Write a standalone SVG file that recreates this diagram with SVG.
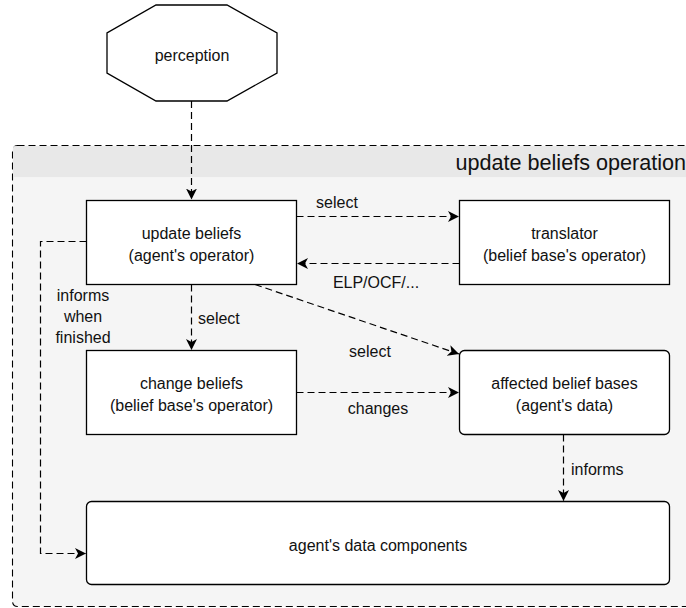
<svg xmlns="http://www.w3.org/2000/svg" width="686" height="608" viewBox="0 0 686 608">
  <style>
    text { font-family: "Liberation Sans", Arial, sans-serif; font-size: 16px; fill: #111111; }
    .mid { text-anchor: middle; }
    .node { fill: #ffffff; stroke: #000000; stroke-width: 1.3; }
    .edge { fill: none; stroke: #000000; stroke-width: 1.2; stroke-dasharray: 7 4; }
    .frame { fill: #f5f5f5; stroke: #000000; stroke-width: 1.1; stroke-dasharray: 7 4; }
  </style>
  <defs>
    <marker id="arrow" markerUnits="userSpaceOnUse" markerWidth="13" markerHeight="13" refX="11" refY="5.5" orient="auto" viewBox="0 0 13 11">
      <path d="M0,0 L11,5.5 L0,11 L3,5.5 Z" fill="#000000" stroke="none"/>
    </marker>
  </defs>

  <!-- enclosing operation frame -->
  <g id="update-beliefs-operation">
    <rect class="frame" x="12.5" y="145.5" width="690" height="461" rx="5"/>
    <rect x="13.1" y="146.1" width="680" height="31" fill="#e8e8e8"/>
    <text x="686" y="170" style="font-size:21.6px; text-anchor:end">update beliefs operation</text>
  </g>

  <g id="perception">
    <polygon class="node" points="156,5 227,5 277,33 277,73 227,101 156,101 107,73 107,33"/>
    <text class="mid" x="192" y="61">perception</text>
  </g>

  <g id="update-beliefs">
    <rect class="node" x="86.5" y="200.5" width="210" height="84"/>
    <text class="mid" x="191.5" y="239">update beliefs</text>
    <text class="mid" x="191.5" y="261">(agent's operator)</text>
  </g>

  <g id="translator">
    <rect class="node" x="459.5" y="200.5" width="210" height="84"/>
    <text class="mid" x="564.5" y="239">translator</text>
    <text class="mid" x="564.5" y="261">(belief base's operator)</text>
  </g>

  <g id="change-beliefs">
    <rect class="node" x="86.5" y="350.5" width="210" height="84"/>
    <text class="mid" x="191.5" y="389">change beliefs</text>
    <text class="mid" x="191.5" y="411">(belief base's operator)</text>
  </g>

  <g id="affected-belief-bases">
    <rect class="node" x="459.5" y="350.5" width="210" height="84" rx="5"/>
    <text class="mid" x="564.5" y="389">affected belief bases</text>
    <text class="mid" x="564.5" y="411">(agent's data)</text>
  </g>

  <g id="agents-data-components">
    <rect class="node" x="86.5" y="501.5" width="583" height="83" rx="5"/>
    <text class="mid" x="378" y="551">agent's data components</text>
  </g>

  <g id="connectors">
    <path class="edge" d="M191.5,101 L191.5,199.5" marker-end="url(#arrow)"/>
    <path class="edge" d="M296.5,216.5 L459,216.5" marker-end="url(#arrow)"/>
    <path class="edge" d="M459.5,263.5 L297,263.5" marker-end="url(#arrow)"/>
    <path class="edge" d="M191.5,284.5 L191.5,350" marker-end="url(#arrow)"/>
    <path class="edge" d="M255,284.5 L459,354" marker-end="url(#arrow)"/>
    <path class="edge" d="M296.5,392.5 L459,392.5" marker-end="url(#arrow)"/>
    <path class="edge" d="M86.5,241.5 L40.5,241.5 L40.5,553.5 L86,553.5" marker-end="url(#arrow)"/>
    <path class="edge" d="M563.5,434.5 L563.5,501" marker-end="url(#arrow)"/>

    <text class="mid" x="337" y="208">select</text>
    <text class="mid" x="376" y="288">ELP/OCF/...</text>
    <text x="198" y="324">select</text>
    <text class="mid" x="370" y="357">select</text>
    <text class="mid" x="378" y="414">changes</text>
    <text class="mid" x="83" y="301">informs</text>
    <text class="mid" x="83" y="322">when</text>
    <text class="mid" x="83" y="343">finished</text>
    <text x="571" y="475">informs</text>
  </g>
</svg>
